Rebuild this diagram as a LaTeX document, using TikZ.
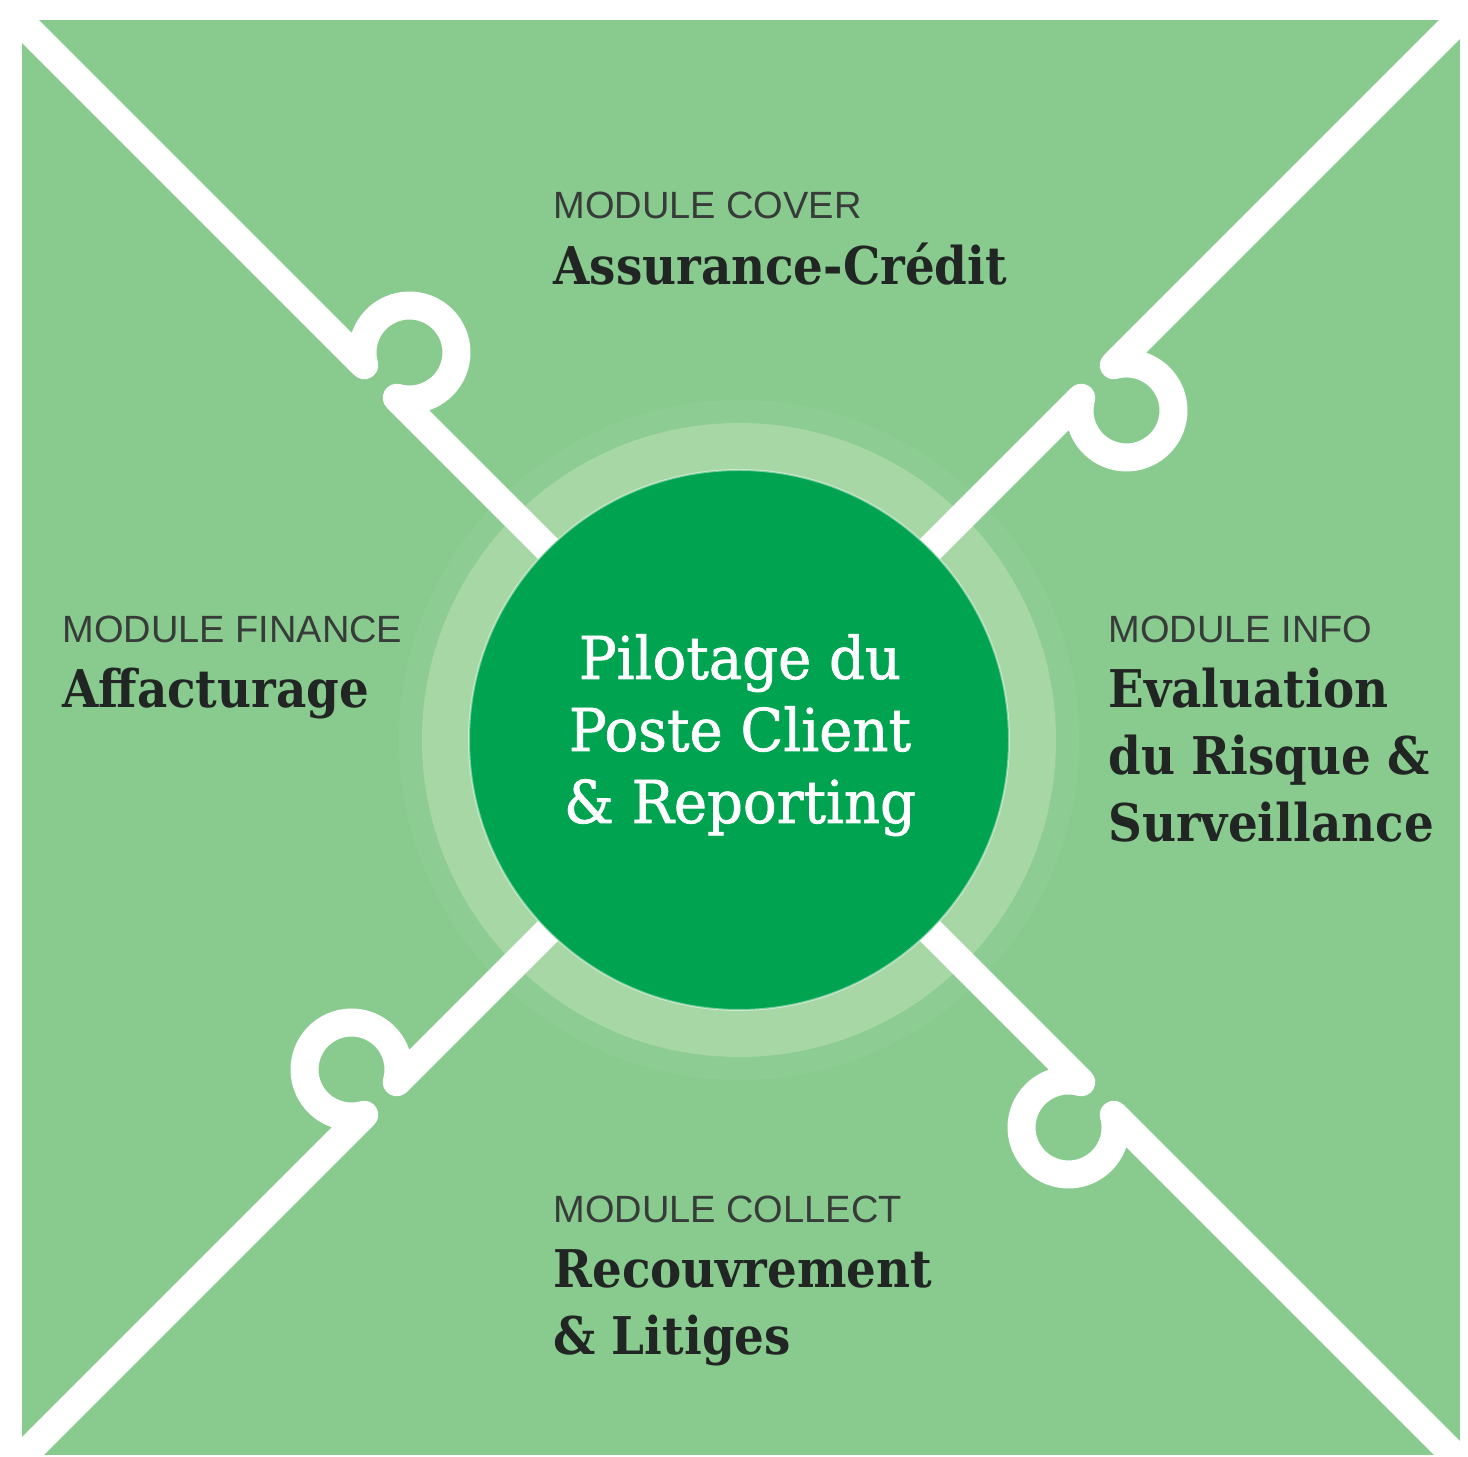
\documentclass[tikz,border=0pt]{standalone}
\usepackage{fontspec}
\setmainfont{DejaVu Serif}
\newfontfamily\titlefont[FakeStretch=0.9]{DejaVu Serif}
\newfontfamily\hubfont[FakeStretch=0.95,FakeBold=1.2]{DejaVu Serif}
\newfontfamily\modfont{Liberation Sans}
\definecolor{bggreen}{RGB}{137,203,143}
\definecolor{hubgreen}{RGB}{0,164,80}
\definecolor{halogreen}{RGB}{168,215,166}
\definecolor{inkdark}{RGB}{33,37,35}
\tikzset{
  seam/.style={
    line width=14pt,
    white,
    line join=round
  },
  modname/.style={
    anchor=base west,
    inner sep=0pt,
    text=inkdark!90,
    font=\modfont\fontsize{19}{19}\selectfont
  },
  % multi-line titles are placed by the baseline of their last line
  modtitle/.style={
    anchor=base west,
    inner sep=0pt,
    align=left,
    text=inkdark,
    font=\titlefont\bfseries\fontsize{26}{33.5}\selectfont
  },
  hubtext/.style={
    anchor=base,
    inner sep=0pt,
    align=center,
    text=white,
    font=\hubfont\fontsize{29.5}{36}\selectfont
  }
}

\begin{document}
\begin{tikzpicture}[x=0.5pt,y=0.5pt]
    \useasboundingbox (0,0) rectangle (1468,1457);
    \fill[bggreen] (22,2) rectangle (1460,1437);
    \coordinate (hub) at (739,717);

    % halo round the hub
    \fill[white,opacity=0.035] (hub) circle[radius=340];
    \fill[halogreen] (hub) circle[radius=317];

    % puzzle seams with their knobs
    \begin{scope}
      \clip (22,2) rectangle (1460,1437);
      \foreach \ang in {45,135,225,315}{
        \draw[seam,shift={(hub)},rotate=\ang]
          (0,0) -- (484,0) arc[start angle=119.3,end angle=420.7,radius=47]
          -- (1200,0);
      }
    \end{scope}

    \node[circle,fill=hubgreen,draw=white,draw opacity=0.45,line width=1pt,
      minimum size=270pt,inner sep=0pt] (core) at (hub) {};

    \node[hubtext] (hubtitle) at (740,634) {Pilotage du\\Poste Client\\\& Reporting};

    \node[modname] (covername) at (553,1238) {MODULE COVER};
    \node[modtitle] (covertitle) at (553,1172) {Assurance-Crédit};

    \node[modname] (financename) at (62,814) {MODULE FINANCE};
    \node[modtitle] (financetitle) at (62,749) {Affacturage};

    \node[modname] (infoname) at (1108,814) {MODULE INFO};
    \node[modtitle] (infotitle) at (1108,615) {Evaluation\\du Risque \&\\Surveillance};

    \node[modname] (collectname) at (553,234) {MODULE COLLECT};
    \node[modtitle] (collecttitle) at (553,102) {Recouvrement\\\& Litiges};
\end{tikzpicture}
\end{document}
